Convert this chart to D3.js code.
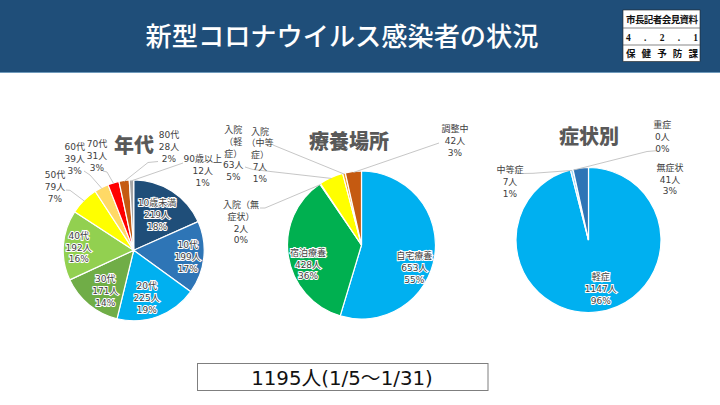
<!DOCTYPE html>
<html>
<head>
<meta charset="utf-8">
<script src="https://cdn.jsdelivr.net/npm/d3@7"></script>
<style>
  html, body { margin: 0; padding: 0; background: #fff; }
  svg { display: block; }
  text { font-family: "DejaVu Sans", "Noto Sans CJK JP", sans-serif; }
</style>
</head>
<body>
<script>
// data
var ageNames = ['10歳未満', '10代', '20代', '30代', '40代', '50代', '60代', '70代', '80代', '90歳以上'];
var ageValues = [219, 199, 225, 171, 192, 79, 39, 31, 28, 12];
var agePct = [18, 17, 19, 14, 16, 7, 3, 3, 2, 1];

var placeNames = ['自宅療養', '宿泊療養', '入院（無\n症状）', '入院\n（軽\n症）', '入院\n（中等\n症）', '調整中'];
var placeValues = [653, 428, 2, 63, 7, 42];
var placePct = [55, 36, 0, 5, 1, 3];

var symptomNames = ['軽症', '中等症', '重症', '無症状'];
var symptomValues = [1147, 7, 0, 41];
var symptomPct = [96, 1, 0, 3];

// styles and layout
var ageColors = ['#1f4e79', '#2e75b6', '#00b0f0', '#70ad47', '#92d050', '#ffff00', '#ffd966', '#ff0000', '#c55a11', '#a6a6a6'];
var placeColors = ['#00b0f0', '#00b050', '#8fd14f', '#ffff00', '#f4a11f', '#c55a11'];
var symptomColors = ['#00b0f0', '#9dd8f5', '#ffc000', '#2e75b6'];

var ageLabelPos = [[157, 215], [187.7, 256.7], [146.7, 298], [105.3, 291], [78.7, 247.3], [55, 187], [74.7, 159], [97, 156], [169, 146.5], [202.7, 171]];
var placeLabelPos = [[414.3, 267.7], [308, 264.3], [241, 222.5], [233.3, 153.3], [260, 155], [455, 141]];
var symptomLabelPos = [[600.7, 288.5], [510, 181.7], [662.3, 136.7], [670, 179.3]];

var ageLeaders = [null, null, null, null, null,
  [[66, 190], [70, 190.3]], [[84, 171], [90, 175]], [[103, 171], [107, 172]], [[158, 161.5], [148, 162.5]], [[183, 163]]];
var placeLeaders = [null, null,
  [[260, 208], [265, 208]], [[245, 167], [253, 169.5]], [[273, 145]], [[439, 143]]];
var symptomLeaders = [null, [[523, 173.5], [533, 173.3]], [[657, 150.7], [647, 151.5]], null];

var width = 720,
    height = 405;

var svg = d3.select('body')
            .append('svg')
            .attr('width', width)
            .attr('height', height);

// header band
svg.append('rect').attr('width', width).attr('height', 72).attr('fill', '#1f4e79');
svg.append('rect').attr('y', 72).attr('width', width).attr('height', 1).attr('fill', '#6f9abb');
svg.append('text')
    .attr('x', 342).attr('y', 46)
    .attr('text-anchor', 'middle')
    .attr('fill', '#fff')
    .attr('font-size', 26.2)
    .attr('font-weight', 500)
    .style('font-family', '"Noto Sans CJK JP", sans-serif')
    .text('新型コロナウイルス感染者の状況');

// stamp box
var stamp = svg.append('g');
stamp.append('rect').attr('x', 623).attr('y', 10).attr('width', 77).attr('height', 51.5)
    .attr('fill', '#fff').attr('stroke', '#222').attr('stroke-width', 0.6);
[28, 45].forEach(function(y) {
  stamp.append('line').attr('x1', 623).attr('x2', 700).attr('y1', y).attr('y2', y)
      .attr('stroke', '#555').attr('stroke-width', 0.7);
});
[['市長記者会見資料', 23], ['4 . 2 . 1', 40.5], ['保 健 予 防 課', 57]].forEach(function(row) {
  stamp.append('text')
      .attr('x', 626).attr('y', row[1])
      .attr('textLength', 72)
      .attr('lengthAdjust', 'spacing')
      .attr('font-size', 9.5)
      .attr('font-weight', 700)
      .attr('fill', '#111')
      .style('font-family', '"Liberation Serif", "Noto Sans CJK JP", serif')
      .text(row[0]);
});

function drawPie(cfg) {
  var pie = d3.pie().sort(null).value(function(d) { return d; });
  var arcs = pie(cfg.values);
  var arc = d3.arc().innerRadius(0).outerRadius(cfg.r);
  var edge = d3.arc().innerRadius(cfg.r - 1).outerRadius(cfg.r - 1);

  var g = svg.append('g').attr('transform', 'translate(' + cfg.cx + ',' + cfg.cy + ')');
  g.selectAll('path')
      .data(arcs)
      .enter()
      .append('path')
      .attr('d', arc)
      .attr('fill', function(d, i) { return cfg.colors[i]; })
      .attr('stroke', '#fff')
      .attr('stroke-width', 1.2);

  // leader lines
  var line = d3.line();
  arcs.forEach(function(d, i) {
    if (!cfg.leaders[i]) return;
    var c = edge.centroid(d);
    var start = [c[0] + cfg.cx, c[1] + cfg.cy];
    svg.append('path')
        .attr('d', line(cfg.leaders[i].concat([start])))
        .attr('fill', 'none')
        .attr('stroke', '#bfbfbf')
        .attr('stroke-width', 0.9);
  });

  // data labels
  arcs.forEach(function(d, i) {
    var lines = cfg.names[i].split('\n').concat([cfg.values[i] + '人', cfg.pct[i] + '%']);
    var pos = cfg.labelPos[i];
    var top = pos[1] - (lines.length - 1) * 11.8 / 2;
    var inside = !cfg.leaders[i] && cfg.names[i] != '無症状';
    var t = svg.append('text')
        .attr('text-anchor', 'middle')
        .attr('font-size', 9)
        .attr('fill', '#404040')
        .attr('stroke', '#fff')
        .attr('stroke-width', inside ? 2 : 0)
        .attr('paint-order', 'stroke');
    lines.forEach(function(s, k) {
      t.append('tspan')
          .attr('x', pos[0])
          .attr('y', top + k * 11.8 + 3.2)
          .text(s);
    });
  });

  svg.append('text')
      .attr('x', cfg.titleX).attr('y', cfg.titleY + 7.5)
      .attr('text-anchor', 'middle')
      .attr('font-size', 20)
      .attr('font-weight', 900)
      .attr('fill', '#595959')
      .style('font-family', '"Noto Sans CJK JP", sans-serif')
      .text(cfg.title);
}

drawPie({title: '年代', titleX: 134, titleY: 145, cx: 133.7, cy: 250.3, r: 70.5,
  names: ageNames, values: ageValues, pct: agePct, colors: ageColors,
  labelPos: ageLabelPos, leaders: ageLeaders});
drawPie({title: '療養場所', titleX: 349, titleY: 141, cx: 361.5, cy: 245, r: 74,
  names: placeNames, values: placeValues, pct: placePct, colors: placeColors,
  labelPos: placeLabelPos, leaders: placeLeaders});
drawPie({title: '症状別', titleX: 589, titleY: 136, cx: 588.5, cy: 240, r: 72.5,
  names: symptomNames, values: symptomValues, pct: symptomPct, colors: symptomColors,
  labelPos: symptomLabelPos, leaders: symptomLeaders});

// total box
svg.append('rect')
    .attr('x', 197.5).attr('y', 363.5).attr('width', 290.5).attr('height', 27)
    .attr('fill', '#fff').attr('stroke', '#7f7f7f').attr('stroke-width', 1);
svg.append('text')
    .attr('x', 342).attr('y', 384.5)
    .attr('text-anchor', 'middle')
    .attr('font-size', 19.8)
    .attr('fill', '#111')
    .text('1195人(1/5～1/31)');
</script>
</body>
</html>
